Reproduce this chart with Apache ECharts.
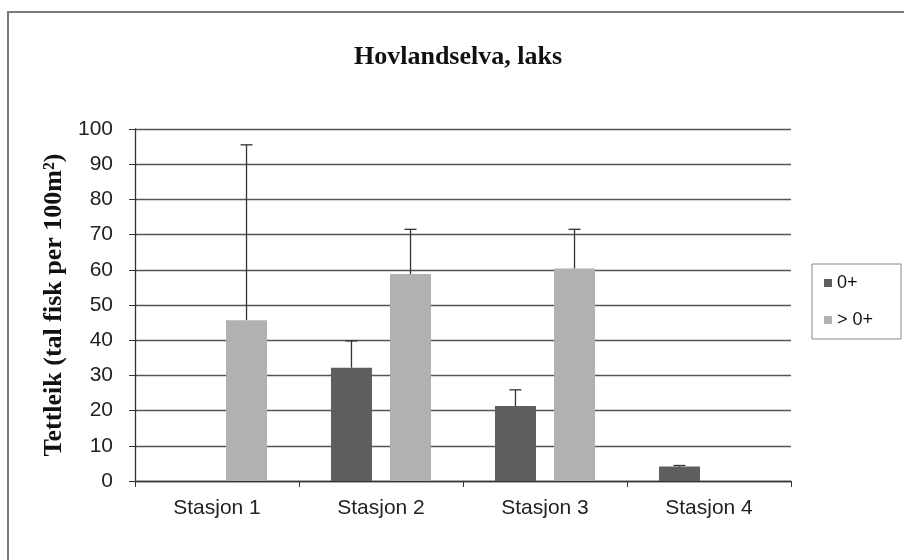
<!DOCTYPE html>
<html>
<head>
<meta charset="utf-8">
<script src="https://cdn.jsdelivr.net/npm/echarts@6/dist/echarts.min.js"></script>
<style>
  html, body { margin: 0; padding: 0; background: #fff; }
  #chart { width: 904px; height: 560px; }
</style>
</head>
<body>
<div id="chart"></div>
<script>
// data
const stations = ['Stasjon 1', 'Stasjon 2', 'Stasjon 3', 'Stasjon 4'];
const young = [0, 32.2, 21.3, 4.1];       // 0+
const older = [45.7, 58.8, 60.4, 0];      // > 0+
const youngErr = [0, 7.6, 4.6, 0.3];      // upper error, 0+
const olderErr = [49.8, 12.7, 11.1, 0];   // upper error, > 0+
const yTicks = [0, 10, 20, 30, 40, 50, 60, 70, 80, 90, 100];

const barPct = 0.25;
const gapPct = 0.44;

function errSeries(vals, errs, side) {
  return {
    type: 'custom',
    z: 5,
    silent: true,
    data: vals.map((v, i) => [i, v, errs[i]]),
    encode: { x: 0, y: 1 },
    renderItem: function (params, api) {
      const err = api.value(2);
      if (!err) return null;
      const v = api.value(1);
      const w = api.size([1, 0])[0];
      const off = side * (barPct + barPct * gapPct) / 2 * w;
      const p0 = api.coord([api.value(0), v]);
      const p1 = api.coord([api.value(0), v + err]);
      const x = p0[0] + off;
      const cap = 6;
      const style = { stroke: '#333', lineWidth: 1.3 };
      return {
        type: 'group',
        children: [
          { type: 'line', shape: { x1: x, y1: p0[1], x2: x, y2: p1[1] }, style: style },
          { type: 'line', shape: { x1: x - cap, y1: p1[1], x2: x + cap, y2: p1[1] }, style: style }
        ]
      };
    }
  };
}

const chart = echarts.init(document.getElementById('chart'));
chart.setOption({
  animation: false,
  backgroundColor: '#fff',
  graphic: [{
    type: 'rect',
    shape: { x: 8, y: 12, width: 1000, height: 1000 },
    style: { fill: 'none', stroke: '#7a7a7a', lineWidth: 2 },
    silent: true
  }],
  title: {
    text: 'Hovlandselva, laks',
    left: 453,
    textAlign: 'center',
    top: 39,
    textStyle: { fontFamily: 'Liberation Serif', fontWeight: 'bold', fontSize: 26, color: '#111' }
  },
  legend: {
    data: ['0+', '> 0+'],
    orient: 'vertical',
    left: 812,
    top: 264,
    icon: 'rect',
    itemWidth: 8,
    itemHeight: 8,
    itemGap: 19,
    padding: [10, 28, 10, 12],
    borderColor: '#888',
    borderWidth: 1,
    textStyle: { fontFamily: 'Liberation Sans', fontSize: 18, color: '#111' }
  },
  grid: { left: 135, right: 113, top: 129, bottom: 79 },
  xAxis: {
    type: 'category',
    data: stations,
    axisLine: { lineStyle: { color: '#333', width: 1.3 } },
    axisTick: { show: true, length: 6, lineStyle: { color: '#333' } },
    axisLabel: { margin: 17, fontFamily: 'Liberation Sans', fontSize: 21, color: '#222' }
  },
  yAxis: {
    type: 'value',
    min: 0,
    max: 100,
    interval: 10,
    name: 'Tettleik (tal fisk per 100m²)',
    nameLocation: 'middle',
    nameGap: 68,
    nameTextStyle: { fontFamily: 'Liberation Serif', fontWeight: 'bold', fontSize: 26, color: '#111' },
    axisLine: { show: true, lineStyle: { color: '#333', width: 1.3 } },
    axisTick: { show: true, length: 6, lineStyle: { color: '#333' } },
    axisLabel: { margin: 22, fontFamily: 'Liberation Sans', fontSize: 21, color: '#222',
      formatter: v => yTicks.includes(v) ? String(v) : '' },
    splitLine: { lineStyle: { color: '#555', width: 1.3 } }
  },
  series: [
    {
      name: '0+',
      type: 'bar',
      data: young,
      barWidth: (barPct * 100) + '%',
      barGap: (gapPct * 100) + '%',
      itemStyle: { color: '#5e5e5e' }
    },
    {
      name: '> 0+',
      type: 'bar',
      data: older,
      barWidth: (barPct * 100) + '%',
      barGap: (gapPct * 100) + '%',
      itemStyle: { color: '#b1b1b1' }
    },
    errSeries(young, youngErr, -1),
    errSeries(older, olderErr, 1)
  ]
});
</script>
</body>
</html>
